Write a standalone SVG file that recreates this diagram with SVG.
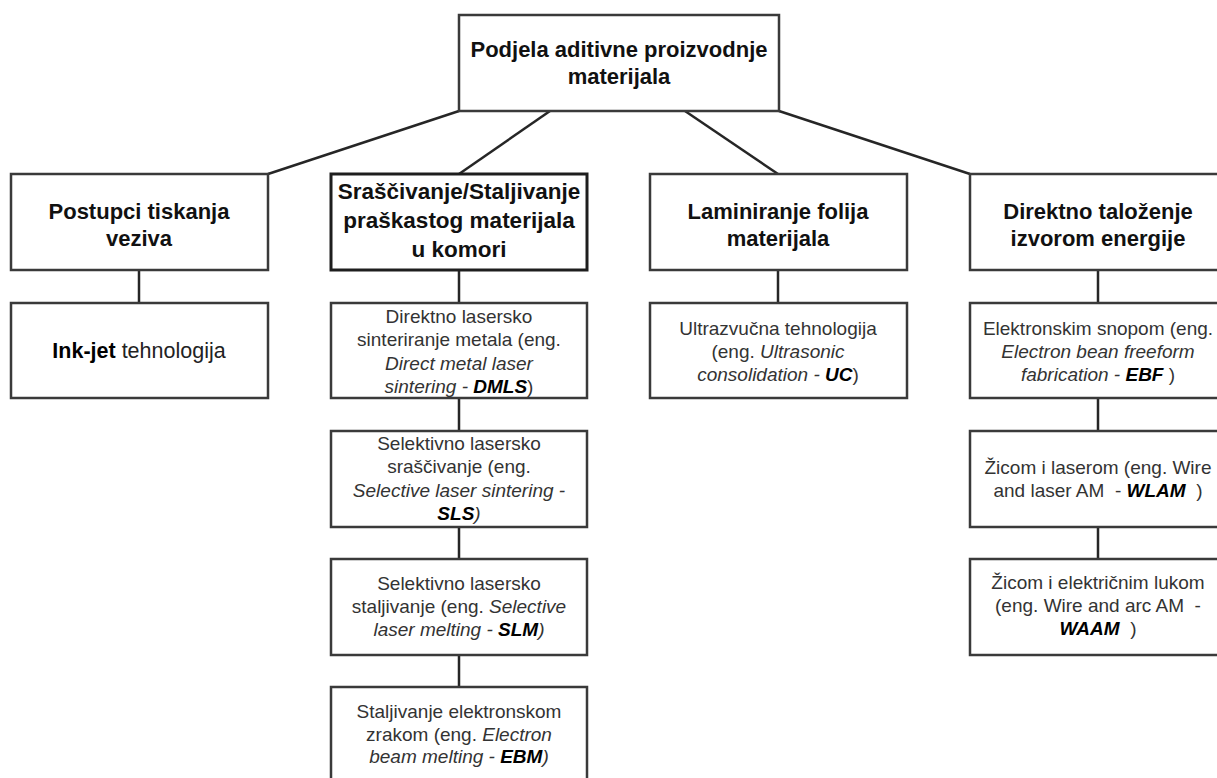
<svg xmlns="http://www.w3.org/2000/svg" width="1217" height="778" viewBox="0 0 1217 778">
<style>
.box{fill:#fff;stroke:#3a3a3a;stroke-width:2.5}
.box2{fill:#fff;stroke:#1e1e1e;stroke-width:3}
.con{fill:none;stroke:#262626;stroke-width:2.5}
.h{font-family:"Liberation Sans",Arial,sans-serif;font-weight:bold;font-size:22px;fill:#111;text-anchor:middle}
.t{font-family:"Liberation Sans",Arial,sans-serif;font-size:19px;fill:#333;text-anchor:middle}
.i{font-style:italic}
.b{font-weight:bold;fill:#000}
</style>
<rect width="1217" height="778" fill="#fff"/>
<g id="connectors">
<path class="con" d="M459,111 L268,174"/>
<path class="con" d="M550,111 L459,174"/>
<path class="con" d="M685,111 L778,174"/>
<path class="con" d="M779,111 L970,174"/>
<path class="con" d="M139,270 V303"/>
<path class="con" d="M459,270 V303 M459,398 V431 M459,527 V559 M459,655 V687"/>
<path class="con" d="M778,270 V303"/>
<path class="con" d="M1098,270 V303 M1098,398 V431 M1098,527 V559"/>
</g>
<g id="root">
<rect class="box" x="459" y="15" width="320" height="96"/>
<text class="h" x="619" y="57">Podjela aditivne proizvodnje</text>
<text class="h" x="619" y="84">materijala</text>
</g>
<g id="postupci">
<rect class="box" x="11" y="174" width="257" height="96"/>
<text class="h" x="139" y="219">Postupci tiskanja</text>
<text class="h" x="139" y="246">veziva</text>
</g>
<g id="srascivanje">
<rect class="box2" x="331" y="174" width="256" height="96"/>
<text class="h" x="459" y="199" style="font-size:22.5px">Sraščivanje/Staljivanje</text>
<text class="h" x="459" y="228" style="font-size:22.5px">praškastog materijala</text>
<text class="h" x="459" y="257" style="font-size:22.5px">u komori</text>
</g>
<g id="laminiranje">
<rect class="box" x="650" y="174" width="257" height="96"/>
<text class="h" x="778" y="219">Laminiranje folija</text>
<text class="h" x="778" y="246">materijala</text>
</g>
<g id="direktno">
<rect class="box" x="970" y="174" width="257" height="96"/>
<text class="h" x="1098" y="219">Direktno taloženje</text>
<text class="h" x="1098" y="246">izvorom energije</text>
</g>
<g id="inkjet">
<rect class="box" x="11" y="303" width="257" height="95"/>
<text class="t" x="139" y="358" style="font-size:21.5px;fill:#222"><tspan class="b">Ink-jet</tspan> tehnologija</text>
</g>
<g id="dmls">
<rect class="box" x="331" y="303" width="256" height="95"/>
<text class="t" x="459" y="323">Direktno lasersko</text>
<text class="t" x="459" y="346">sinteriranje metala (eng.</text>
<text class="t i" x="459" y="370">Direct metal laser</text>
<text class="t" x="459" y="393"><tspan class="i">sintering - </tspan><tspan class="i b">DMLS</tspan>)</text>
</g>
<g id="sls">
<rect class="box" x="331" y="431" width="256" height="96"/>
<text class="t" x="459" y="450">Selektivno lasersko</text>
<text class="t" x="459" y="473">sraščivanje (eng.</text>
<text class="t i" x="459" y="497">Selective laser sintering -</text>
<text class="t i" x="459" y="520"><tspan class="b">SLS</tspan>)</text>
</g>
<g id="slm">
<rect class="box" x="331" y="559" width="256" height="96"/>
<text class="t" x="459" y="590">Selektivno lasersko</text>
<text class="t" x="459" y="613">staljivanje (eng. <tspan class="i">Selective</tspan></text>
<text class="t i" x="459" y="636">laser melting - <tspan class="b">SLM</tspan>)</text>
</g>
<g id="ebm">
<rect class="box" x="331" y="687" width="256" height="96"/>
<text class="t" x="459" y="718">Staljivanje elektronskom</text>
<text class="t" x="459" y="741">zrakom (eng. <tspan class="i">Electron</tspan></text>
<text class="t i" x="459" y="763">beam melting - <tspan class="b">EBM</tspan>)</text>
</g>
<g id="uc">
<rect class="box" x="650" y="303" width="257" height="95"/>
<text class="t" x="778" y="335">Ultrazvučna tehnologija</text>
<text class="t" x="778" y="358">(eng. <tspan class="i">Ultrasonic</tspan></text>
<text class="t" x="778" y="381"><tspan class="i">consolidation - </tspan><tspan class="i b">UC</tspan>)</text>
</g>
<g id="ebf">
<rect class="box" x="970" y="303" width="257" height="95"/>
<text class="t" x="1098" y="335">Elektronskim snopom (eng.</text>
<text class="t i" x="1098" y="358">Electron bean freeform</text>
<text class="t" x="1098" y="381"><tspan class="i">fabrication - </tspan><tspan class="i b">EBF</tspan> )</text>
</g>
<g id="wlam">
<rect class="box" x="970" y="431" width="257" height="96"/>
<text class="t" x="1098" y="474">Žicom i laserom (eng. Wire</text>
<text class="t" x="1098" y="497" xml:space="preserve">and laser AM  - <tspan class="i b">WLAM</tspan>  )</text>
</g>
<g id="waam">
<rect class="box" x="970" y="559" width="257" height="96"/>
<text class="t" x="1098" y="589">Žicom i električnim lukom</text>
<text class="t" x="1098" y="612" xml:space="preserve">(eng. Wire and arc AM  -</text>
<text class="t" x="1098" y="635" xml:space="preserve"><tspan class="i b">WAAM</tspan>  )</text>
</g>
</svg>
